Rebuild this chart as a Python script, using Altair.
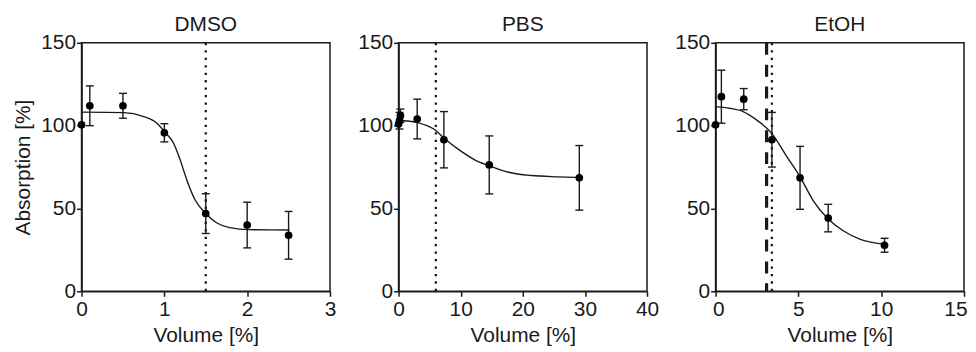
import altair as alt
import pandas as pd

# ---------------- data ----------------
PANELS = ["DMSO", "PBS", "EtOH"]

DMSO_X = [0, 0.1, 0.5, 1.0, 1.5, 2.0, 2.5]
DMSO_Y = [100.5, 112, 112, 95.7, 46.9, 40, 33.8]
DMSO_ERR = [0, 12, 7.5, 5.5, 12, 13.8, 14.4]
DMSO_CX = [0, 0.51, 0.75, 0.91, 1.01, 1.11, 1.19, 1.27, 1.37, 1.50, 1.63, 1.79, 2.03, 2.51]
DMSO_CY = [108.2, 107.9, 105.5, 101.5, 95.9, 89.5, 79.5, 67.4, 55.3, 47.0, 41.4, 38.4, 37.2, 37.0]
DMSO_DOTTED = [1.5]
DMSO_DASHED = []
DMSO_XTICKS = [0, 1, 2, 3]

PBS_X = [0, 0.15, 0.3, 3.0, 7.3, 14.6, 29.1]
PBS_Y = [101, 103, 106, 104, 91.5, 76.3, 68.5]
PBS_ERR = [0, 5, 4, 12, 17, 17.5, 19.5]
PBS_CX = [0, 3.0, 6.0, 7.3, 9.7, 12.4, 14.6, 17.7, 21.4, 25.7, 29.2]
PBS_CY = [103.3, 101.9, 97.1, 92.5, 85.5, 79.1, 75.8, 71.9, 69.9, 69.1, 68.7]
PBS_DOTTED = [6.0]
PBS_DASHED = []
PBS_XTICKS = [0, 10, 20, 30, 40]

ETOH_X = [0, 0.35, 1.7, 3.4, 5.1, 6.8, 10.2]
ETOH_Y = [100.5, 117.5, 116, 91.5, 68.5, 44.2, 27.8]
ETOH_ERR = [0, 16, 6.4, 16.5, 19, 8.3, 4.2]
ETOH_CX = [0, 0.85, 1.66, 2.47, 3.38, 4.29, 5.1, 5.91, 6.82, 7.73, 8.74, 10.26]
ETOH_CY = [111.5, 110.5, 108.5, 103.5, 95.5, 81.5, 69.1, 54.5, 43.5, 36.4, 31.4, 28.4]
ETOH_DOTTED = [3.4]
ETOH_DASHED = [3.08]
ETOH_XTICKS = [0, 5, 10, 15]

Y_TICKS = [0, 50, 100, 150]

FONT = "Liberation Sans"
INK = "#1a1a1a"


def panel(name, xs, ys, errs, cx, cy, dotted, dashed, xticks, show_ytitle, flush=False):
    pts = pd.DataFrame({
        "x": xs, "y": ys,
        "lo": [y - e for y, e in zip(ys, errs)],
        "hi": [y + e for y, e in zip(ys, errs)],
        "e": errs,
    })
    bars = pts[pts["e"] > 0]
    curve = pd.DataFrame({"x": cx, "y": cy})

    xscale = alt.Scale(domain=[xticks[0], xticks[-1]], nice=False, zero=False, padding=0)
    yscale = alt.Scale(domain=[0, 150], nice=False, padding=0)
    if flush:
        xaxis = alt.Axis(values=xticks, title="Volume [%]", grid=False, format="d",
                         labelFlush=True, labelFlushOffset=3)
    else:
        xaxis = alt.Axis(values=xticks, title="Volume [%]", grid=False, format="d")
    yaxis = alt.Axis(values=Y_TICKS, title="Absorption [%]" if show_ytitle else None,
                     grid=False, format="d")

    layers = []
    if dotted:
        layers.append(
            alt.Chart(pd.DataFrame({"x": dotted})).mark_rule(
                color=INK, strokeWidth=2.3, strokeDash=[2.3, 5.2]
            ).encode(x=alt.X("x:Q", scale=xscale, axis=xaxis),
                     y=alt.value(0), y2=alt.value(250))
        )
    if dashed:
        layers.append(
            alt.Chart(pd.DataFrame({"x": dashed})).mark_rule(
                color=INK, strokeWidth=3.2, strokeDash=[12, 10]
            ).encode(x=alt.X("x:Q", scale=xscale, axis=xaxis),
                     y=alt.value(0), y2=alt.value(250))
        )
    layers.append(
        alt.Chart(curve).mark_line(color=INK, strokeWidth=1.4, interpolate="monotone").encode(
            x=alt.X("x:Q", scale=xscale, axis=xaxis),
            y=alt.Y("y:Q", scale=yscale, axis=yaxis),
        )
    )
    layers.append(
        alt.Chart(bars).mark_rule(color=INK, strokeWidth=1.4).encode(
            x=alt.X("x:Q", scale=xscale, axis=xaxis),
            y=alt.Y("lo:Q", scale=yscale, axis=yaxis),
            y2="hi:Q",
        )
    )
    for col in ["lo", "hi"]:
        layers.append(
            alt.Chart(bars).mark_tick(color=INK, orient="horizontal", size=8,
                                      thickness=1.4, opacity=1).encode(
                x=alt.X("x:Q", scale=xscale, axis=xaxis),
                y=alt.Y(f"{col}:Q", scale=yscale, axis=yaxis),
            )
        )
    layers.append(
        alt.Chart(pts).mark_circle(color="black", size=60, opacity=1).encode(
            x=alt.X("x:Q", scale=xscale, axis=xaxis),
            y=alt.Y("y:Q", scale=yscale, axis=yaxis),
        )
    )
    return alt.layer(*layers).properties(
        width=250, height=250,
        title=alt.TitleParams(name, fontSize=21, fontWeight="normal", font=FONT,
                              color=INK, offset=-3),
    )


p1 = panel("DMSO", DMSO_X, DMSO_Y, DMSO_ERR, DMSO_CX, DMSO_CY, DMSO_DOTTED, DMSO_DASHED,
           DMSO_XTICKS, True)
p2 = panel("PBS", PBS_X, PBS_Y, PBS_ERR, PBS_CX, PBS_CY, PBS_DOTTED, PBS_DASHED,
           PBS_XTICKS, False)
p3 = panel("EtOH", ETOH_X, ETOH_Y, ETOH_ERR, ETOH_CX, ETOH_CY, ETOH_DOTTED, ETOH_DASHED,
           ETOH_XTICKS, False, flush=True)

chart = alt.hconcat(p1, p2, p3, spacing=69, bounds="flush").properties(
    padding={"left": 4, "top": 4, "right": 0, "bottom": 0}
).configure_view(
    stroke=INK, strokeWidth=1.5
).configure_axis(
    labelFont=FONT, titleFont=FONT, labelFontSize=21, titleFontSize=21,
    labelColor=INK, titleColor=INK, titleFontWeight="normal",
    domainColor=INK, tickColor=INK, domainWidth=1.5, tickWidth=1.5, tickSize=5,
    labelPadding=2, titlePadding=6, labelFlush=False,
).configure_axisY(titlePadding=7, labelPadding=1)

chart.save("out.html", embed_options={"renderer": "svg", "actions": False})
